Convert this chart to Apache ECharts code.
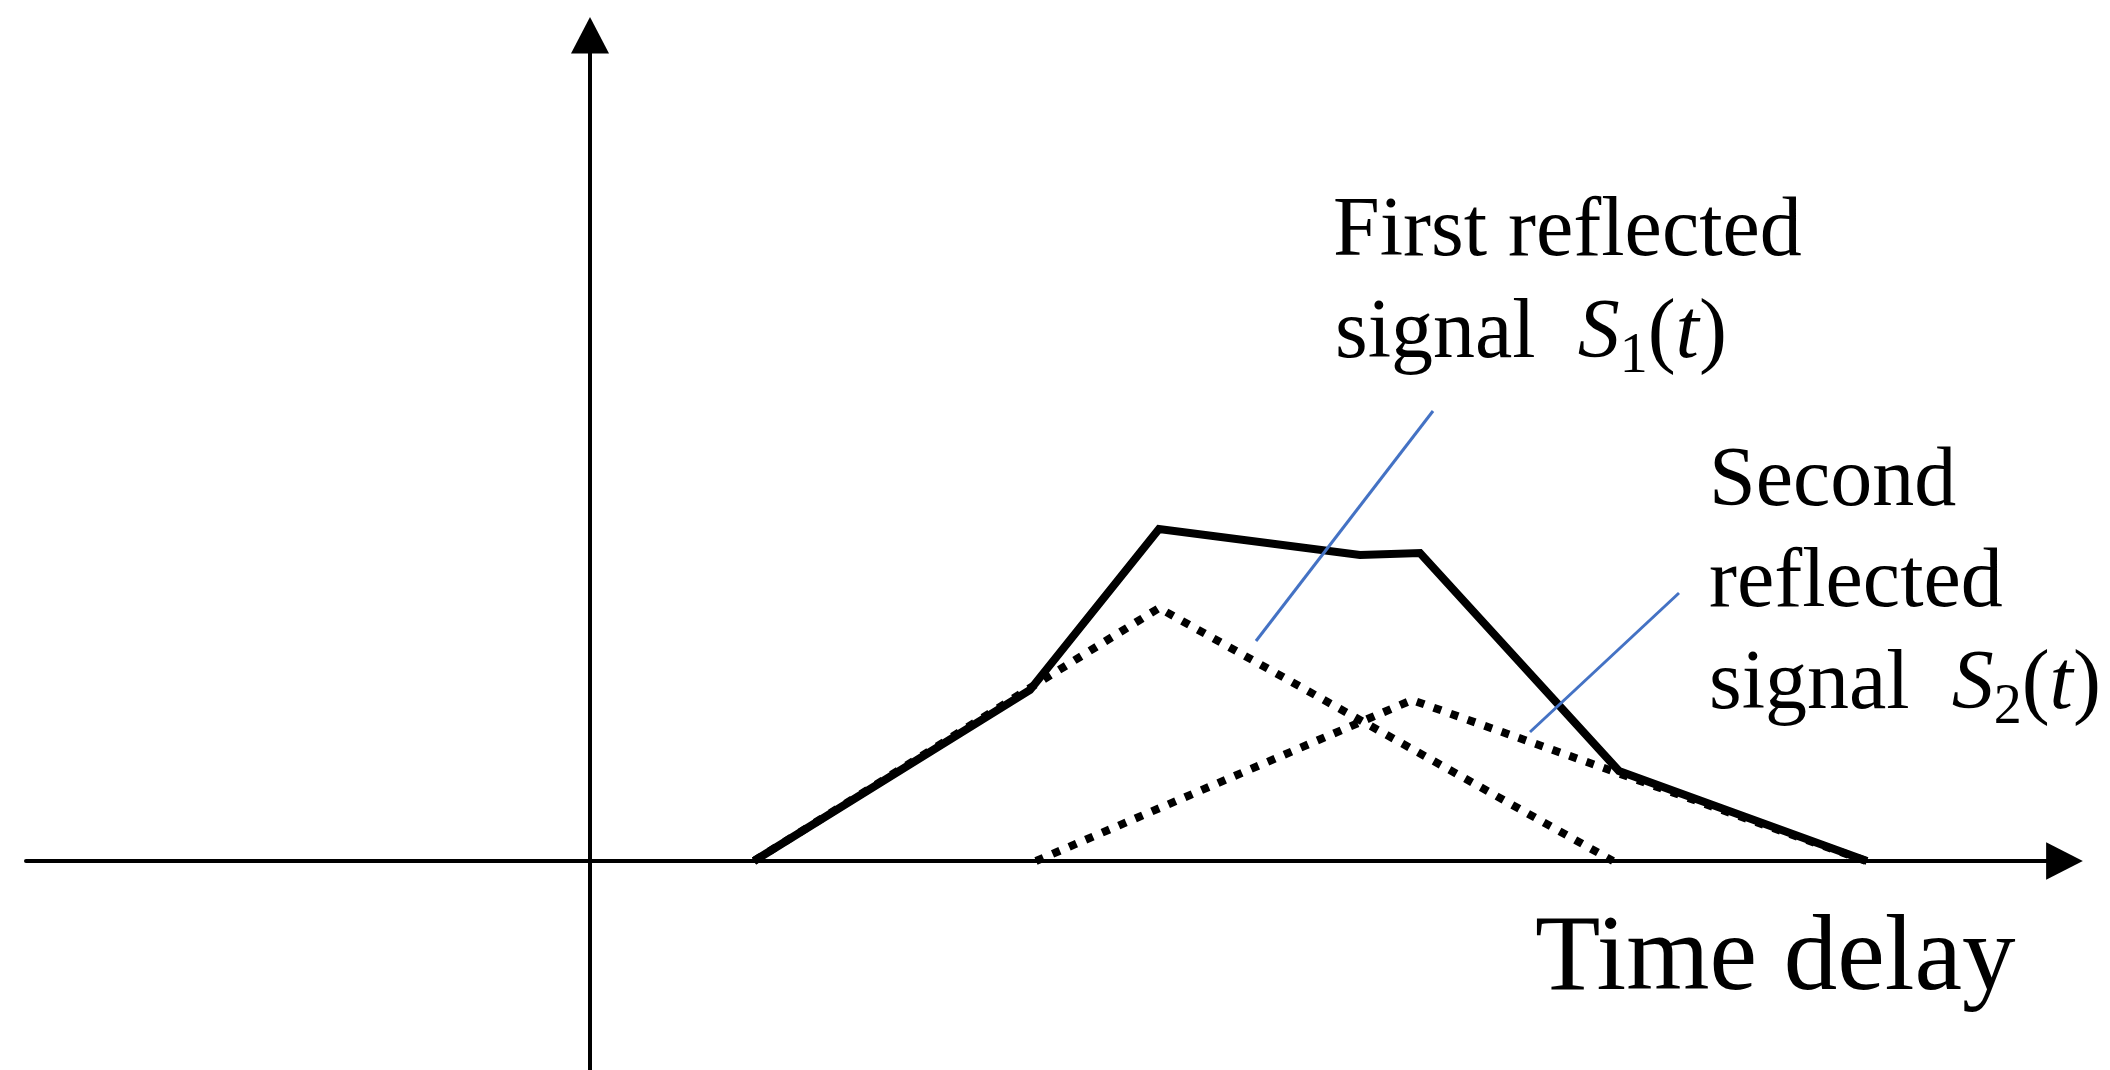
<!DOCTYPE html>
<html>
<head>
<meta charset="utf-8">
<script src="https://cdn.jsdelivr.net/npm/echarts@6/dist/echarts.min.js"></script>
<style>
  html, body { margin: 0; padding: 0; background: #fff; }
  #chart { width: 2110px; height: 1070px; }
</style>
</head>
<body>
<div id="chart"></div>
<script>
// ---- data (schematic units: time delay / amplitude) ----
const combinedX = [16.4, 44.0, 56.9, 77.0, 83.0, 102.9, 127.7];
const combinedY = [0, 17.1, 33.2, 30.6, 30.8, 9.0, 0];
const s1X = [16.4, 44.0, 56.9, 102.3];
const s1Y = [0, 17.3, 25.3, 0];
const s2X = [44.6, 82.2, 127.6];
const s2Y = [0, 16.1, 0];
const leader1X = [84.3, 66.6];
const leader1Y = [45.0, 22.0];
const leader2X = [108.9, 94.0];
const leader2Y = [26.8, 12.9];
const axisName = 'Time delay';
const label1Lines = ['First reflected', 'signal'];
const label2Lines = ['Second', 'reflected', 'signal'];

function pairs(xs, ys) { return xs.map((x, i) => [x, ys[i]]); }

const chart = echarts.init(document.getElementById('chart'), null, { renderer: 'canvas' });

const serif = '"Liberation Serif", "Times New Roman", serif';
const mainRich = {
  n: { fontFamily: serif, fontSize: 84, lineHeight: 100, color: '#000' },
  i: { fontFamily: serif, fontSize: 84, lineHeight: 100, fontStyle: 'italic', color: '#000' },
  sub: { fontFamily: serif, fontSize: 56, lineHeight: 56, verticalAlign: 'bottom', color: '#000' }
};

function textEl(x, y, text) {
  return {
    type: 'text', x: x, y: y, silent: true, z: 100,
    style: { text: text, rich: mainRich, verticalAlign: 'top', align: 'left' }
  };
}

const option = {
  backgroundColor: '#fff',
  animation: false,
  grid: { left: 26, right: 45.5, top: 35.3, bottom: 0, outerBoundsMode: 'none', containLabel: false },
  xAxis: {
    type: 'value', min: -56.4, max: 147.45,
    axisLine: { show: true, onZero: true, symbol: ['none', 'triangle'], symbolSize: [37.6, 36.7],
      lineStyle: { color: '#000', width: 4 } },
    axisTick: { show: false }, axisLabel: { show: false }, splitLine: { show: false }
  },
  yAxis: {
    type: 'value', min: -20.9, max: 82.57,
    axisLine: { show: true, onZero: true, symbol: ['none', 'triangle'], symbolSize: [38, 36.5],
      lineStyle: { color: '#000', width: 4 } },
    axisTick: { show: false }, axisLabel: { show: false }, splitLine: { show: false }
  },
  series: [
    { name: 'S1', type: 'line', data: pairs(s1X, s1Y), symbol: 'none', silent: true, z: 2,
      lineStyle: { color: '#000', width: 8, type: [8, 10], cap: 'butt' } },
    { name: 'S2', type: 'line', data: pairs(s2X, s2Y), symbol: 'none', silent: true, z: 2,
      lineStyle: { color: '#000', width: 8, type: [8, 10], cap: 'butt' } },
    { name: 'Received', type: 'line', data: pairs(combinedX, combinedY), symbol: 'none', silent: true, z: 3,
      lineStyle: { color: '#000', width: 8, join: 'miter' } },
    { name: 'leader1', type: 'line', data: pairs(leader1X, leader1Y), symbol: 'none', silent: true, z: 4,
      lineStyle: { color: '#4472C4', width: 3 } },
    { name: 'leader2', type: 'line', data: pairs(leader2X, leader2Y), symbol: 'none', silent: true, z: 4,
      lineStyle: { color: '#4472C4', width: 3 } }
  ],
  graphic: [
    textEl(1333, 183, '{n|' + label1Lines[0] + '}'),
    textEl(1335, 285, '{n|' + label1Lines[1] + '  }{i|S}{sub|1}{n|(}{i|t}{n|)}'),
    textEl(1709, 433, '{n|' + label2Lines[0] + '}'),
    textEl(1709, 534, '{n|' + label2Lines[1] + '}'),
    textEl(1709, 636, '{n|' + label2Lines[2] + '  }{i|S}{sub|2}{n|(}{i|t}{n|)}'),
    {
      type: 'text', x: 1535, y: 901, silent: true, z: 100,
      style: { text: axisName, fontFamily: serif, fontSize: 107, lineHeight: 120, fill: '#000',
        verticalAlign: 'top', align: 'left' }
    }
  ]
};
chart.setOption(option);
</script>
</body>
</html>
